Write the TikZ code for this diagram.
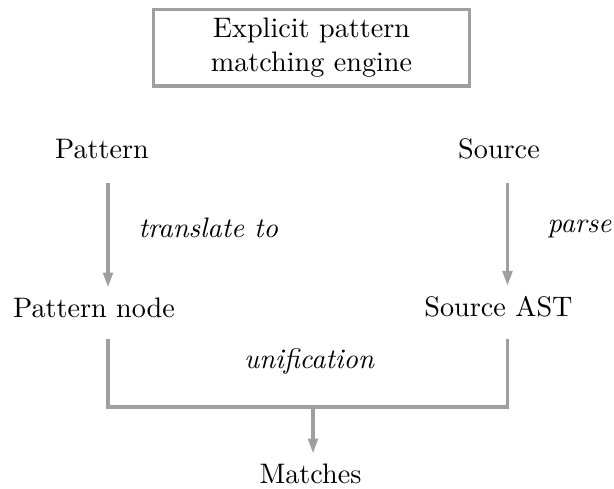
\documentclass[tikz,border=0pt]{standalone}
\usetikzlibrary{arrows.meta,calc}
\begin{document}
\begin{tikzpicture}[x=0.3546pt,y=-0.3546pt,
  conn/.style={draw=gray!75, line width=1.2pt},
  arr/.style={conn, -{Triangle[length=5.3pt,width=3.4pt]}},
  txt/.style={anchor=base},
  edgelbl/.style={anchor=base west, inner sep=0pt, font=\itshape},
  enginebox/.style={draw=gray!75, line width=1.2pt, align=center,
    minimum width=112pt, minimum height=27.1pt, inner sep=0pt}]
\useasboundingbox (0,0) rectangle (614,489);
% title box
\node[enginebox] (eng) at (311.5,47.75) {Explicit pattern\\matching engine};
% nodes
\node[txt] (pat)  at (102,159)   {Pattern};
\node[txt] (src)  at (499,159)   {Source};
\node[txt] (patn) at (94,317)    {Pattern node};
\node[txt] (srcn) at (498.5,316) {Source AST};
\node[txt] (mat)  at (310.5,483) {Matches};
% column coordinates for connectors
\coordinate (lx) at (108,0);
\coordinate (rx) at (507.5,0);
\coordinate (j)  at (313,407);
% arrows
\draw[arr] ($(pat.south -| lx)+(0,13.6)$) -- (patn.north -| lx);
\draw[arr] ($(src.south -| rx)+(0,13.6)$) -- (srcn.north -| rx);
% edge labels
\node[edgelbl] (ltr) at (138,238) {translate to};
\node[edgelbl] (lpa) at (547,232) {parse};
% bracket
\draw[conn] ($(patn.south -| lx)+(0,12)$) |- (j) -| ($(srcn.south -| rx)+(0,12.6)$);
\node[txt] (lun) at (309,368) {\itshape unification};
\draw[arr] (j) -- (mat.north -| j);
\end{tikzpicture}
\end{document}
